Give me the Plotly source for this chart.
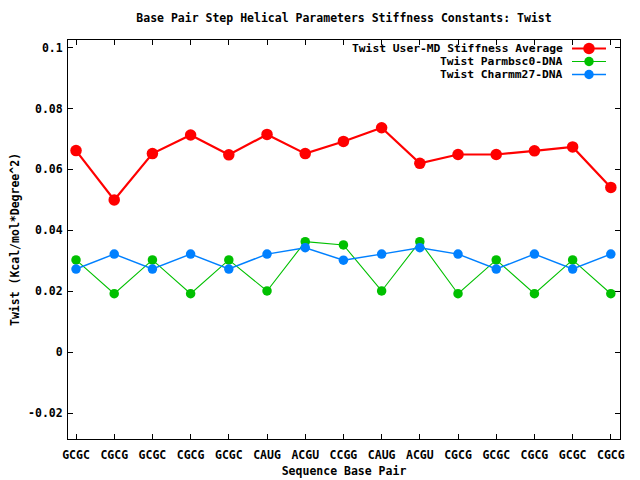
import plotly.graph_objects as go

categories = ["GCGC", "CGCG", "GCGC", "CGCG", "GCGC", "CAUG", "ACGU", "CCGG",
              "CAUG", "ACGU", "CGCG", "GCGC", "CGCG", "GCGC", "CGCG"]
user_md = [0.0662, 0.0500, 0.0652, 0.0713, 0.0648, 0.0715, 0.0652, 0.0692,
           0.0737, 0.0620, 0.0649, 0.0649, 0.0661, 0.0674, 0.0541]
parmbsc0 = [0.0303, 0.0192, 0.0303, 0.0192, 0.0303, 0.0201, 0.0363, 0.0352,
            0.0201, 0.0363, 0.0192, 0.0303, 0.0192, 0.0303, 0.0192]
charmm27 = [0.0273, 0.0322, 0.0273, 0.0322, 0.0273, 0.0322, 0.0343, 0.0302,
            0.0322, 0.0343, 0.0322, 0.0273, 0.0322, 0.0273, 0.0322]
series_names = ["Twist User-MD Stiffness Average", "Twist Parmbsc0-DNA", "Twist Charmm27-DNA"]
y_tick_vals = [-0.02, 0, 0.02, 0.04, 0.06, 0.08, 0.1]
y_tick_text = ["-0.02", "0", "0.02", "0.04", "0.06", "0.08", "0.1"]

FONT = dict(family="DejaVu Sans Mono", size=11.5, color="black", weight="bold")
LEG_FONT = dict(family="DejaVu Sans Mono", size=11.3, color="black", weight="bold")
x = list(range(len(categories)))

fig = go.Figure()
styles = [
    (user_md, "#ff0000", 2.2, 11.5),
    (parmbsc0, "#00c000", 1.1, 9.5),
    (charmm27, "#0080ff", 1.5, 9.5),
]
for (vals, color, lw, ms), name in zip(styles, series_names):
    fig.add_trace(go.Scatter(x=x, y=vals, mode="lines+markers", name=name,
                             line=dict(color=color, width=lw),
                             marker=dict(color=color, size=ms, symbol="circle"),
                             showlegend=False))

# page body has an 8px margin; work in screen pixels and shift
OFF = 8
W, H = 640, 480
L, R, T, B = 68 - OFF, 620 - OFF, 40 - OFF, 439 - OFF
legend_rows = [48.5 - OFF, 61.5 - OFF, 74.5 - OFF]
shapes = []
annotations = []
for ypix, (vals, color, lw, ms), name in zip(legend_rows, styles, series_names):
    yp = 1 - (ypix - T) / (B - T)
    x_text = (565 - OFF - L) / (R - L)
    x0 = (572 - OFF - L) / (R - L)
    x1 = (606 - OFF - L) / (R - L)
    xm = (589 - OFF - L) / (R - L)
    annotations.append(dict(text=name, xref="paper", yref="paper", x=x_text, y=yp,
                            xanchor="right", yanchor="middle", showarrow=False,
                            font=LEG_FONT))
    shapes.append(dict(type="line", xref="paper", yref="paper", x0=x0, x1=x1, y0=yp, y1=yp,
                       line=dict(color=color, width=lw)))
    shapes.append(dict(type="circle", xref="paper", yref="paper", xsizemode="pixel",
                       ysizemode="pixel", xanchor=xm, yanchor=yp,
                       x0=-ms / 2, x1=ms / 2, y0=-ms / 2, y1=ms / 2,
                       fillcolor=color, line=dict(color=color, width=0)))

fig.update_layout(
    width=W, height=H,
    margin=dict(l=L, r=W - R, t=T, b=H - B, autoexpand=False),
    paper_bgcolor="white", plot_bgcolor="white",
    font=FONT,
    title=dict(text="Base Pair Step Helical Parameters Stiffness Constants: Twist",
               x=(L + R) / 2 / W, xanchor="center", y=1 - (18 - OFF) / H, yanchor="middle",
               font=FONT, automargin=False),
    shapes=shapes, annotations=annotations,
    xaxis=dict(range=[-0.21, 14.24], tickvals=x, ticktext=categories, automargin=False,
               showgrid=False, zeroline=False, showline=True, linecolor="black",
               linewidth=1, mirror="ticks", ticks="inside", ticklen=5, tickcolor="black",
               tickfont=FONT, ticklabelstandoff=5,
               title=dict(text="Sequence Base Pair", font=FONT, standoff=6)),
    yaxis=dict(range=[-0.0285, 0.1025], tickvals=y_tick_vals, ticktext=y_tick_text,
               automargin=False,
               showgrid=False, zeroline=False, showline=True, linecolor="black",
               linewidth=1, mirror="ticks", ticks="inside", ticklen=5, tickcolor="black",
               tickfont=FONT, ticklabelstandoff=2,
               title=dict(text="Twist (Kcal/mol*Degree^2)", font=FONT, standoff=10)),
)

fig.write_html("out.html")
